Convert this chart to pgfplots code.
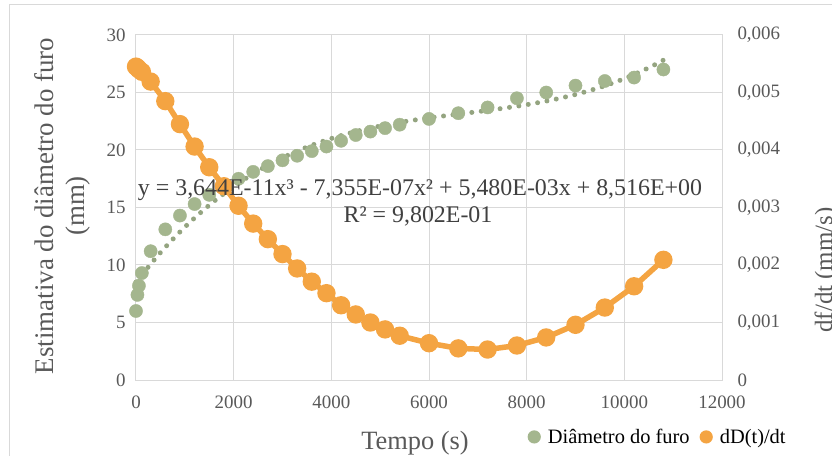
\documentclass[border=0pt]{standalone}
\usepackage{fontspec}
\setmainfont{Liberation Serif}
\usepackage{pgfplots}
\pgfplotsset{compat=1.18}
\definecolor{furogreen}{RGB}{164,182,142}
\definecolor{rateorange}{RGB}{244,164,66}
\definecolor{gridgray}{RGB}{217,217,217}
\definecolor{ticktext}{RGB}{89,89,89}
\definecolor{eqtext}{RGB}{64,64,64}

\pgfplotsset{
  commonaxis/.style={
    scale only axis, width=586bp, height=345bp,
    at={(0,0)}, anchor=south west,
    xmin=0, xmax=12000, clip=false,
    scaled ticks=false,
    major tick length=0pt,
    tick label style={font=\fontsize{19}{19}\selectfont, text=ticktext},
    /pgf/number format/assume math mode=true,
  },
}

\begin{document}
\begin{tikzpicture}
\path[use as bounding box] (-136bp,-76bp) rectangle (696bp,380bp);
\draw[gridgray, line width=1bp] (-126bp,-90bp) rectangle (710bp,375bp);

\begin{axis}[commonaxis,
  ymin=0, ymax=30,
  xtick={0,2000,4000,6000,8000,10000,12000},
  xticklabels={0,2000,4000,6000,8000,10000,12000},
  ytick={0,5,10,15,20,25,30},
  yticklabels={0,5,10,15,20,25,30},
  grid=major, grid style={gridgray, line width=1bp},
  axis line style={gridgray, line width=1bp},
  xticklabel style={yshift=-12bp},
  yticklabel style={xshift=-7bp},
]
\addplot[only marks, mark=*, mark size=6.6bp, furogreen, mark options={draw=none}]
  coordinates {
  (0,6.0)(30,7.4)(60,8.2)(120,9.3)(300,11.2)(600,13.1)(900,14.3)
  (1200,15.3)(1500,16.1)(1800,16.8)(2100,17.5)(2400,18.1)(2700,18.6)
  (3000,19.1)(3300,19.5)(3600,19.9)(3900,20.3)(4200,20.8)(4500,21.3)
  (4800,21.6)(5100,21.9)(5400,22.2)(6000,22.7)(6600,23.2)(7200,23.7)
  (7800,24.5)(8400,25.0)(9000,25.6)(9600,26.0)(10200,26.3)(10800,27.0)};
% polynomial trendline (Excel), sampled
\addplot[furogreen!90!black, smooth, line width=5bp, line cap=round,
  dash pattern=on 0bp off 9.5bp]
  coordinates {
  (0,8.516)(500,11.077)(1000,13.297)(1500,15.204)(2000,16.826)
  (2500,18.188)(3000,19.320)(3500,20.249)(4000,21.000)(4500,21.603)
  (5000,22.084)(5500,22.470)(6000,22.789)(6500,23.068)(7000,23.335)
  (7500,23.617)(8000,23.941)(8500,24.335)(9000,24.825)(9500,25.440)
  (10000,26.206)(10500,27.151)(10800,27.815)};
\end{axis}

\begin{axis}[commonaxis,
  axis x line=none, axis y line*=right,
  axis line style={draw=none},
  ymin=0, ymax=0.006,
  ytick={0,0.001,0.002,0.003,0.004,0.005,0.006},
  yticklabels={0,{0,001},{0,002},{0,003},{0,004},{0,005},{0,006}},
  yticklabel style={xshift=12bp},
  legend columns=2,
  legend style={at={(axis description cs:0.668,-0.165)}, anchor=west,
    draw=none, fill=none, inner sep=0pt,
    nodes={font=\fontsize{20.5}{20.5}\selectfont, text=black},
    /tikz/every odd column/.append style={column sep=5bp},
    /tikz/every even column/.append style={column sep=8bp}},
  legend image code/.code={\fill[#1, draw=none] (6bp,0bp) circle (6.6bp);},
]
\addlegendimage{furogreen}
\addlegendentry{Diâmetro do furo}
\addplot[rateorange, line width=5.5bp, mark=*, mark size=6.4bp,
  mark options={draw=none}]
  coordinates {
  (0,0.00545)(30,0.00543)(60,0.00540)(120,0.00536)(300,0.00519)
  (600,0.00485)(900,0.00445)(1200,0.00406)(1500,0.00370)(1800,0.00337)
  (2100,0.00303)(2400,0.00272)(2700,0.00245)(3000,0.00219)(3300,0.00194)
  (3600,0.00171)(3900,0.00151)(4200,0.00130)(4500,0.00114)(4800,0.00100)
  (5100,0.00088)(5400,0.00077)(6000,0.00064)(6600,0.00055)(7200,0.00053)
  (7800,0.00060)(8400,0.00074)(9000,0.00096)(9600,0.00126)(10200,0.00163)
  (10800,0.00209)};
\addlegendentry{dD(t)/dt}
\end{axis}

% equation and R^2 of the trendline
\node[text=eqtext, font=\fontsize{24}{24}\selectfont] at (284bp,190bp)
  {y = 3,644E-11x³ - 7,355E-07x² + 5,480E-03x + 8,516E+00};
\node[text=eqtext, font=\fontsize{24}{24}\selectfont] at (282bp,164bp)
  {R² = 9,802E-01};

% axis titles
\node[text=ticktext, font=\fontsize{27}{31}\selectfont, rotate=90, align=center]
  at (-74bp,174bp) {Estimativa do diâmetro do furo\\(mm)};
\node[text=ticktext, font=\fontsize{26.5}{26.5}\selectfont] at (279bp,-63bp) {Tempo (s)};
\node[text=ticktext, font=\fontsize{25}{25}\selectfont, rotate=90]
  at (690bp,110bp) {df/dt (mm/s)};
\end{tikzpicture}
\end{document}
